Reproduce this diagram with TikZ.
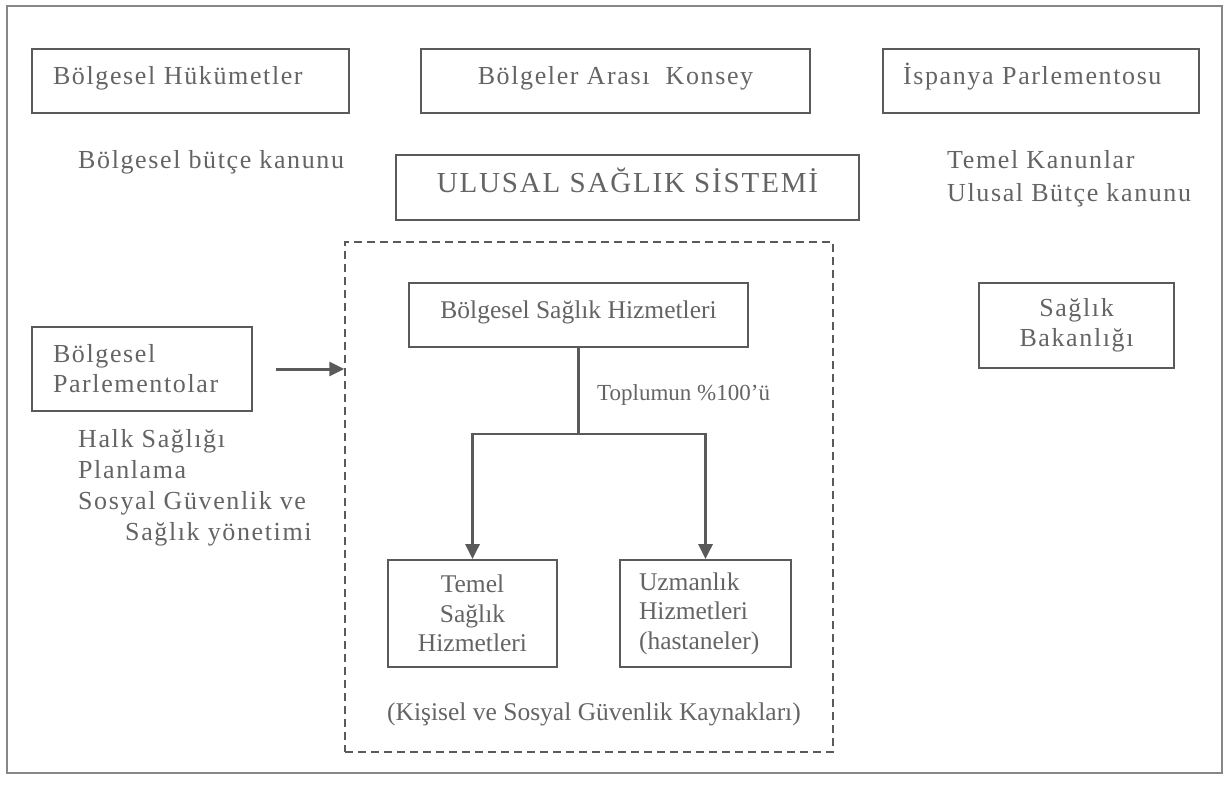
\documentclass[tikz,border=0pt]{standalone}
\usepackage{fontspec}
\setmainfont{Liberation Serif}
\newfontfamily\widefont{Liberation Serif}[LetterSpace=6.2]
\newfontfamily\capfont{Liberation Serif}[LetterSpace=6.4]
\usetikzlibrary{arrows.meta}
\definecolor{txt}{RGB}{100,100,100}
\definecolor{ln}{RGB}{90,90,90}
\definecolor{frm}{RGB}{135,135,135}
\begin{document}
\begin{tikzpicture}[x=1pt,y=-1pt,
  every node/.style={text=txt},
  wide/.style={font=\widefont\fontsize{26}{30}\selectfont},
  tight/.style={font=\rmfamily\fontsize{25.5}{29.5}\selectfont},
  box/.style={draw=ln, line width=1.8pt, inner sep=0pt},
  oneline/.style={text height=16pt, text depth=10pt},
  freetext/.style={inner sep=0pt},
  arr/.style={draw=ln, line width=3pt, -{Triangle[length=15pt,width=14pt]}},
  conn/.style={draw=ln, line width=2.2pt}]
\useasboundingbox (0,0) rectangle (1230,798);
\draw[frm, line width=2pt] (7,6) rectangle (1222,773);

% top row boxes
\node[box, wide, oneline, inner xsep=21pt, text width=275pt, align=left, minimum height=64pt] (bh) at (190.5,81) {Bölgesel Hükümetler};
\node[box, wide, oneline, minimum width=389pt, minimum height=64pt] (bak) at (615.5,81) {Bölgeler Arası~ Konsey};
\node[box, wide, oneline, inner xsep=20pt, text width=276pt, align=left, minimum height=64pt] (ip) at (1041,81) {İspanya Parlementosu};

% national system
\node[box, font=\capfont\fontsize{29}{35}\selectfont, text height=20pt, text depth=9.6pt, minimum width=463pt, minimum height=65pt] (uss) at (627.5,187.5) {ULUSAL SAĞLIK SİSTEMİ};

\node[freetext, wide, anchor=base west] (bbk) at (78,168) {Bölgesel bütçe kanunu};
\node[freetext, font=\widefont\fontsize{26}{33}\selectfont, anchor=north west, align=left] (tk) at (947,150.2) {Temel Kanunlar\\Ulusal Bütçe kanunu};

% dashed region
\node[draw=ln, line width=1.5pt, dash pattern=on 8pt off 5pt, minimum width=488pt, minimum height=510pt, inner sep=0pt] (dash) at (589,497) {};

\node[box, tight, oneline, minimum width=339pt, minimum height=64pt] (bsh) at (578.5,315) {Bölgesel Sağlık Hizmetleri};
\node[freetext, font=\rmfamily\fontsize{23}{28}\selectfont, anchor=base west] (top) at (597,400) {Toplumun \%100’ü};

\node[box, tight, align=center, minimum width=169pt, minimum height=107pt] (tsh) at (472.5,613.5) {Temel\\Sağlık\\Hizmetleri};
\node[box, tight, inner xsep=19pt, text width=133pt, align=left, minimum height=107pt] (uzm) at (705.5,613.5) {Uzmanlık\\Hizmetleri\\(hastaneler)};

\node[freetext, tight, anchor=base] (kis) at (594,720) {(Kişisel ve Sosyal Güvenlik Kaynakları)};

% left side
\node[box, wide, inner xsep=21pt, text width=178pt, align=left, minimum height=84pt] (bp) at (142,369) {Bölgesel\\Parlementolar};
\node[freetext, font=\widefont\fontsize{26}{31}\selectfont, anchor=north west, align=left] (hs) at (78,429) {Halk Sağlığı\\Planlama\\Sosyal Güvenlik ve\\\hspace*{47pt}Sağlık yönetimi};

% right side
\node[box, wide, align=center, minimum width=195pt, minimum height=85pt] (sb) at (1076.5,325.5) {Sağlık\\Bakanlığı};

% connectors
\draw[arr] ([xshift=23pt]bp.east) -- (bp.east -| dash.west);
\draw[conn] (bsh.south) -- ++(0,86) coordinate (j);
\draw[conn] (tsh.north |- j) -- (uzm.north |- j);
\draw[arr] ([yshift=1pt]tsh.north |- j) -- (tsh.north);
\draw[arr] ([yshift=1pt]uzm.north |- j) -- (uzm.north);
\end{tikzpicture}
\end{document}
